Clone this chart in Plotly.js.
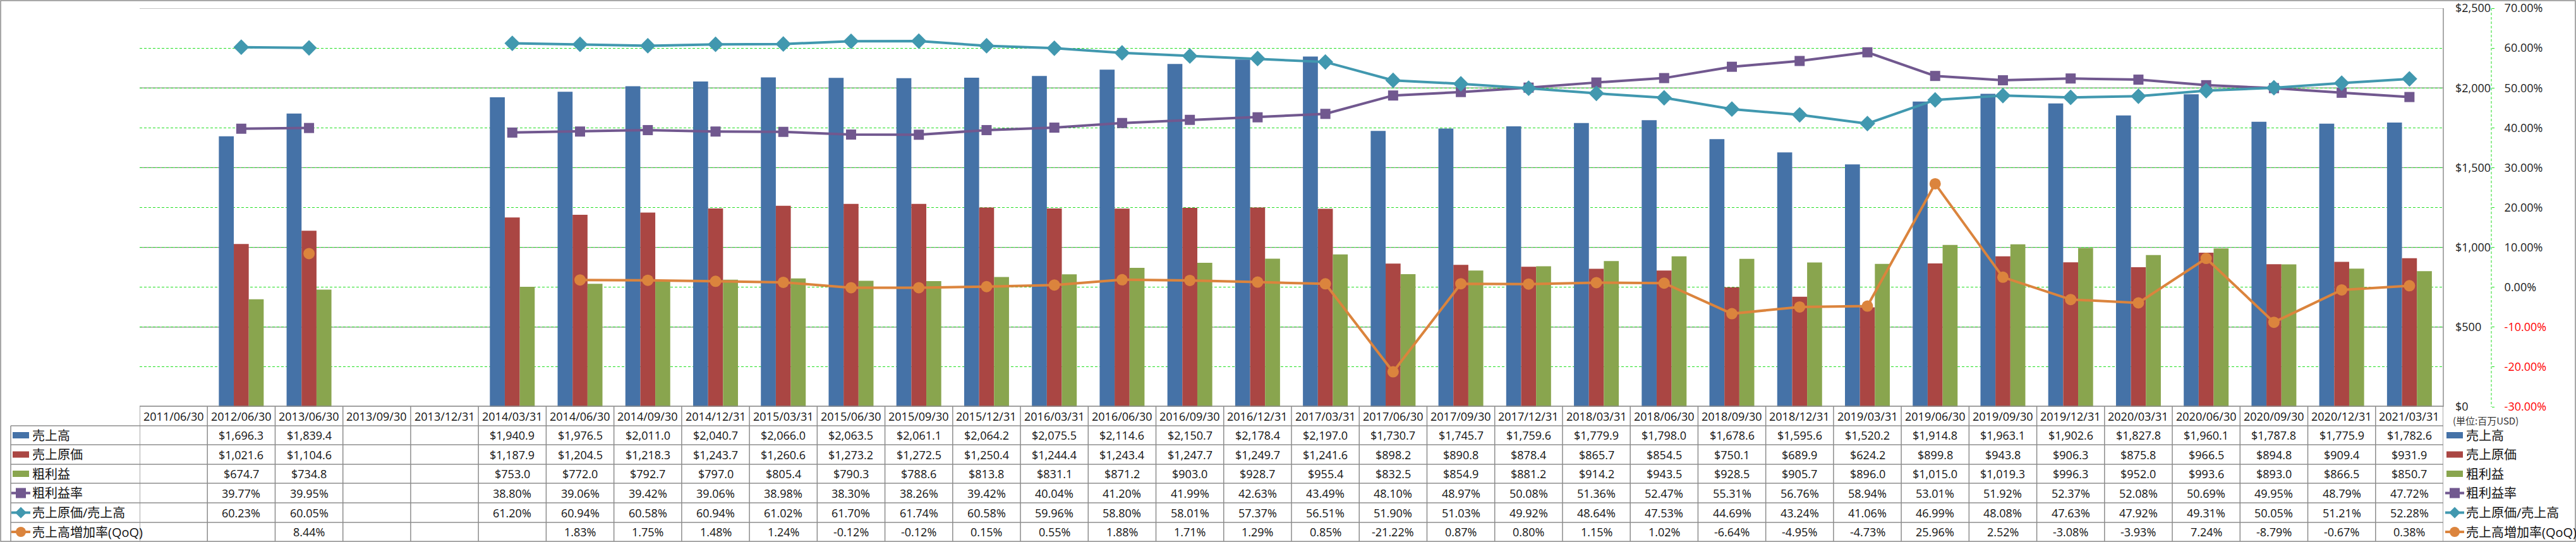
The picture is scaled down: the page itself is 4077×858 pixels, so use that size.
<!DOCTYPE html>
<html><head><meta charset="utf-8">
<script src="https://cdn.plot.ly/plotly-3.0.1.min.js"></script>
<style>html,body{margin:0;padding:0;background:#fff}</style>
</head><body><div id="chart" style="width:4077px;height:858px"></div>
<script>
const dates = ['2011/06/30','2012/06/30','2013/06/30','2013/09/30','2013/12/31','2014/03/31','2014/06/30','2014/09/30','2014/12/31','2015/03/31','2015/06/30','2015/09/30','2015/12/31','2016/03/31','2016/06/30','2016/09/30','2016/12/31','2017/03/31','2017/06/30','2017/09/30','2017/12/31','2018/03/31','2018/06/30','2018/09/30','2018/12/31','2019/03/31','2019/06/30','2019/09/30','2019/12/31','2020/03/31','2020/06/30','2020/09/30','2020/12/31','2021/03/31'];
const sales = [null,1696.3,1839.4,null,null,1940.9,1976.5,2011.0,2040.7,2066.0,2063.5,2061.1,2064.2,2075.5,2114.6,2150.7,2178.4,2197.0,1730.7,1745.7,1759.6,1779.9,1798.0,1678.6,1595.6,1520.2,1914.8,1963.1,1902.6,1827.8,1960.1,1787.8,1775.9,1782.6];
const cogs = [null,1021.6,1104.6,null,null,1187.9,1204.5,1218.3,1243.7,1260.6,1273.2,1272.5,1250.4,1244.4,1243.4,1247.7,1249.7,1241.6,898.2,890.8,878.4,865.7,854.5,750.1,689.9,624.2,899.8,943.8,906.3,875.8,966.5,894.8,909.4,931.9];
const gross = [null,674.7,734.8,null,null,753.0,772.0,792.7,797.0,805.4,790.3,788.6,813.8,831.1,871.2,903.0,928.7,955.4,832.5,854.9,881.2,914.2,943.5,928.5,905.7,896.0,1015.0,1019.3,996.3,952.0,993.6,893.0,866.5,850.7];
const grossMargin = [null,39.77,39.95,null,null,38.80,39.06,39.42,39.06,38.98,38.30,38.26,39.42,40.04,41.20,41.99,42.63,43.49,48.10,48.97,50.08,51.36,52.47,55.31,56.76,58.94,53.01,51.92,52.37,52.08,50.69,49.95,48.79,47.72];
const cogsRatio = [null,60.23,60.05,null,null,61.20,60.94,60.58,60.94,61.02,61.70,61.74,60.58,59.96,58.80,58.01,57.37,56.51,51.90,51.03,49.92,48.64,47.53,44.69,43.24,41.06,46.99,48.08,47.63,47.92,49.31,50.05,51.21,52.28];
const qoq = [null,null,8.44,null,null,null,1.83,1.75,1.48,1.24,-0.12,-0.12,0.15,0.55,1.88,1.71,1.29,0.85,-21.22,0.87,0.80,1.15,1.02,-6.64,-4.95,-4.73,25.96,2.52,-3.08,-3.93,7.24,-8.79,-0.67,0.38];
const seriesNames = ['売上高','売上原価','粗利益','粗利益率','売上原価/売上高','売上高増加率(QoQ)'];
const dollarTicks = [0,500,1000,1500,2000,2500];
const pctTicks = [-30,-20,-10,0,10,20,30,40,50,60,70];
const unitLabel = '(単位:百万USD)';

const colors = ['#4572A7','#AA4643','#89A54E','#71588F','#4198AF','#DB843D'];
const W = 4077, H = 858;
const X = p => p / W, Y = p => 1 - p / H;
const FONT = 'Open Sans, Noto Sans CJK JP, sans-serif';
const JFONT = 'Noto Sans CJK JP, sans-serif';

const traces = [
  {type:'bar', name:seriesNames[0], x:dates, y:sales, yaxis:'y', marker:{color:colors[0], line:{width:0}}},
  {type:'bar', name:seriesNames[1], x:dates, y:cogs, yaxis:'y', marker:{color:colors[1], line:{width:0}}},
  {type:'bar', name:seriesNames[2], x:dates, y:gross, yaxis:'y', marker:{color:colors[2], line:{width:0}}},
  {type:'scatter', mode:'lines+markers', name:seriesNames[3], x:dates, y:grossMargin, yaxis:'y2', connectgaps:false,
   line:{color:colors[3], width:4}, marker:{symbol:'square', size:16, color:colors[3]}},
  {type:'scatter', mode:'lines+markers', name:seriesNames[4], x:dates, y:cogsRatio, yaxis:'y2', connectgaps:false,
   line:{color:colors[4], width:4}, marker:{symbol:'diamond', size:19, color:colors[4]}},
  {type:'scatter', mode:'lines+markers', name:seriesNames[5], x:dates, y:qoq, yaxis:'y2', connectgaps:false,
   line:{color:colors[5], width:4}, marker:{symbol:'circle', size:18, color:colors[5]}}
];

const fmtMoney = v => '$' + v.toLocaleString('en-US',{minimumFractionDigits:1, maximumFractionDigits:1});
const fmtPct = v => v.toFixed(2) + '%';
const fmtDollarTick = v => '$' + v.toLocaleString('en-US');
const fmtPctTick = v => v < 0 ? '<span style="color:#ff0000">' + v.toFixed(2) + '%</span>' : v.toFixed(2) + '%';

const gray = '#8c8c8c';
const shapes = [];
const annotations = [];

// primary gridlines (gray), above the green dashed secondary grid but below the traces
dollarTicks.forEach(v => {
  shapes.push({type:'line', xref:'paper', yref:'y', x0:X(221), x1:X(3867), y0:v, y1:v, layer:'between', line:{color:gray, width:1.2}});
});

// table geometry (pixels)
const rowLines = [643, 674, 704, 735, 765, 796, 827, 857];
const rowCenters = rowLines.slice(0, -1).map((v, i) => (v + rowLines[i + 1]) / 2);

function pline(xa, ya, xb, yb, color, w, dash) {
  shapes.push({type:'line', xref:'paper', yref:'paper', x0:X(xa), x1:X(xb), y0:Y(ya), y1:Y(yb),
    line:{color:color, width:w, dash:dash || 'solid'}, layer:'above'});
}
// outer border
shapes.push({type:'rect', xref:'paper', yref:'paper', x0:X(1), x1:X(4076), y0:Y(857), y1:Y(1), line:{color:gray, width:1.5}});
// plot right border
pline(3867, 13, 3867, 644, gray, 1.5);
// secondary axis dashed line
pline(3943, 13, 3943, 644, '#22dd22', 1, '4px,3px');
// table horizontals
pline(221, 643, 3867, 643, gray, 1.5);
for (let r = 1; r < rowLines.length - 1; r++) pline(17, rowLines[r], 3867, rowLines[r], gray, 1.5);
// label column left border
pline(17, 674, 17, 857, gray, 1.5);
// table verticals at category boundaries
for (let i = 0; i <= dates.length; i++) {
  shapes.push({type:'line', xref:'x', yref:'paper', x0:i - 0.5, x1:i - 0.5, y0:Y(643), y1:Y(857), line:{color:gray, width:1.5}});
}

function key(idx, cx, cy) {
  const c = colors[idx];
  if (idx < 3) {
    shapes.push({type:'rect', xref:'paper', yref:'paper', x0:X(cx - 13), x1:X(cx + 13), y0:Y(cy + 5), y1:Y(cy - 5), fillcolor:c, line:{width:0}});
    return;
  }
  pline(cx - 15, cy, cx + 15, cy, c, 4);
  if (idx === 3) {
    shapes.push({type:'rect', xref:'paper', yref:'paper', x0:X(cx - 8), x1:X(cx + 8), y0:Y(cy + 8), y1:Y(cy - 8), fillcolor:c, line:{width:0}});
  } else if (idx === 4) {
    shapes.push({type:'path', xref:'paper', yref:'paper', fillcolor:c, line:{width:0},
      path:`M ${X(cx - 9)},${Y(cy)} L ${X(cx)},${Y(cy - 9)} L ${X(cx + 9)},${Y(cy)} L ${X(cx)},${Y(cy + 9)} Z`});
  } else {
    shapes.push({type:'circle', xref:'paper', yref:'paper', x0:X(cx - 8), x1:X(cx + 8), y0:Y(cy + 8), y1:Y(cy - 8), fillcolor:c, line:{width:0}});
  }
}

function txt(x, xref, y, text, opts) {
  annotations.push(Object.assign({x:x, xref:xref, y:Y(y), yref:'paper', text:text, showarrow:false,
    xanchor:'center', yanchor:'middle', font:{family:FONT, size:18, color:'#111'}}, opts || {}));
}

// header row
dates.forEach(d => txt(d, 'x', rowCenters[0], d));
// data rows
const tableSeries = [sales, cogs, gross, grossMargin, cogsRatio, qoq];
tableSeries.forEach((arr, s) => {
  const fmt = s < 3 ? fmtMoney : fmtPct;
  arr.forEach((v, i) => { if (v !== null) txt(dates[i], 'x', rowCenters[s + 1], fmt(v)); });
  key(s, 33, rowCenters[s + 1]);
  txt(X(49), 'paper', rowCenters[s + 1], seriesNames[s], {xanchor:'left', font:{family:FONT, size:20, color:'#111'}});
  key(s, 3885, rowCenters[s + 1]);
  txt(X(3901), 'paper', rowCenters[s + 1], seriesNames[s], {xanchor:'left', font:{family:FONT, size:20, color:'#111'}});
});
txt(X(3880), 'paper', 665, unitLabel, {xanchor:'left', font:{family:JFONT, size:15, color:'#333'}});

const layout = {
  width:W, height:H, margin:{l:0, r:0, t:0, b:0, pad:0},
  paper_bgcolor:'#ffffff', plot_bgcolor:'rgba(0,0,0,0)',
  showlegend:false, barmode:'group', bargap:0.338, bargroupgap:0,
  font:{family:FONT, size:18, color:'#1a1a1a'},
  hovermode:false,
  xaxis:{type:'category', categoryorder:'array', categoryarray:dates, domain:[X(221), X(3867)], range:[-0.5, dates.length - 0.5],
    showticklabels:false, ticks:'', showgrid:false, zeroline:false, showline:false, fixedrange:true},
  yaxis:{domain:[Y(644), Y(13)], range:[0, 2500], side:'right', anchor:'x', tickmode:'array', tickvals:dollarTicks,
    ticktext:dollarTicks.map(fmtDollarTick), ticks:'', ticklabelstandoff:18, showgrid:false, zeroline:false, showline:false,
    tickfont:{family:FONT, size:18, color:'#1a1a1a'}},
  yaxis2:{overlaying:'y', side:'right', anchor:'free', position:X(3943), range:[-30, 70], tickmode:'array', tickvals:pctTicks,
    ticktext:pctTicks.map(fmtPctTick), ticks:'outside', ticklen:4, tickwidth:1, tickcolor:'#22dd22', ticklabelstandoff:12,
    showgrid:true, gridcolor:'#22e022', griddash:'4px,3px', gridwidth:1, zeroline:false, showline:false,
    tickfont:{family:FONT, size:18, color:'#1a1a1a'}},
  shapes:shapes, annotations:annotations
};

Plotly.newPlot('chart', traces, layout, {staticPlot:true, displayModeBar:false});
</script>
</body></html>
